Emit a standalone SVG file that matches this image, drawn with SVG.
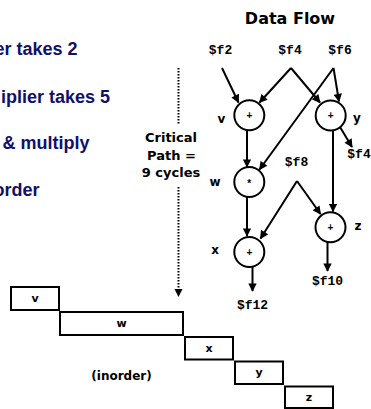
<svg xmlns="http://www.w3.org/2000/svg" width="371" height="409" viewBox="0 0 371 409">
  <style>
    .bullet { font-family: "Liberation Sans", Arial, sans-serif; font-weight: bold; font-size: 18px; fill: #10106b; text-anchor: end; }
    .hand { font-family: "DejaVu Sans", Verdana, sans-serif; font-weight: bold; fill: #000; text-anchor: middle; }
    .reg { font-family: "Liberation Mono", "Courier New", monospace; font-weight: bold; font-size: 13px; fill: #000; text-anchor: middle; }
    .op { fill: #fff; stroke: #000; stroke-width: 2; }
    .opsym { font-family: "Liberation Sans", Arial, sans-serif; font-weight: bold; font-size: 10px; fill: #000; text-anchor: middle; }
    .edge { stroke: #000; stroke-width: 2; fill: none; marker-end: url(#arrow); }
    .crit { stroke: #000; stroke-width: 2; fill: none; stroke-dasharray: 1.5 1.5; }
    .slot { fill: #fff; stroke: #000; stroke-width: 2; }
  </style>
  <defs>
    <marker id="arrow" viewBox="0 0 10 10" refX="9" refY="5" markerWidth="4.8" markerHeight="4.2" orient="auto" markerUnits="strokeWidth">
      <path d="M0,0 L10,5 L0,10 z" fill="#000"/>
    </marker>
  </defs>

  <!-- bullet text, clipped at the left edge -->
  <g id="bullets">
    <text class="bullet" x="77.5" y="55">er takes 2</text>
    <text class="bullet" x="110" y="102.5">iplier takes 5</text>
    <text class="bullet" x="89.5" y="149">&amp; multiply</text>
    <text class="bullet" x="39.5" y="196">order</text>
  </g>

  <!-- critical path indicator -->
  <g id="critical-path">
    <line class="crit" x1="178.5" y1="68" x2="178.5" y2="124"/>
    <line class="crit" x1="178.5" y1="187" x2="178.5" y2="290"/>
    <path d="M174.5,289 L182.5,289 L178.5,297 z" fill="#000"/>
    <text class="hand" font-size="13" x="171" y="142">Critical</text>
    <text class="hand" font-size="13" x="171.5" y="159.5">Path =</text>
    <text class="hand" font-size="13" x="171" y="177">9 cycles</text>
  </g>

  <text class="hand" font-size="16" x="290" y="24">Data Flow</text>

  <!-- register labels -->
  <g id="registers">
    <text class="reg" x="220.5" y="54">$f2</text>
    <text class="reg" x="290" y="54">$f4</text>
    <text class="reg" x="340" y="54">$f6</text>
    <text class="reg" x="359" y="158">$f4</text>
    <text class="reg" x="296.5" y="166">$f8</text>
    <text class="reg" x="327.5" y="285">$f10</text>
    <text class="reg" x="252.5" y="309">$f12</text>
  </g>

  <!-- connectors -->
  <g id="connectors">
    <line class="edge" x1="222" y1="68" x2="238.5" y2="102.5"/>
    <line class="edge" x1="291" y1="68" x2="259.5" y2="102.5"/>
    <line class="edge" x1="291" y1="68" x2="320" y2="102.5"/>
    <line class="edge" x1="333.5" y1="68" x2="339" y2="101.5"/>
    <line class="edge" x1="333.5" y1="68" x2="259.5" y2="169.5"/>
    <line class="edge" x1="247" y1="130" x2="247" y2="167"/>
    <line class="edge" x1="333" y1="130.5" x2="333" y2="211.5"/>
    <line class="edge" x1="340" y1="127" x2="352" y2="147"/>
    <line class="edge" x1="247" y1="197" x2="247" y2="236"/>
    <line class="edge" x1="297" y1="181" x2="260.5" y2="238.5"/>
    <line class="edge" x1="297" y1="181" x2="320.5" y2="214"/>
    <line class="edge" x1="252.5" y1="267" x2="252.5" y2="291"/>
    <line class="edge" x1="327.5" y1="242" x2="327.5" y2="271"/>
  </g>

  <!-- operation nodes -->
  <g id="node-v">
    <circle class="op" cx="249.3" cy="115.3" r="15"/>
    <text class="opsym" x="249.3" y="119">+</text>
    <text class="hand" font-size="12" x="221.5" y="123">v</text>
  </g>
  <g id="node-y">
    <circle class="op" cx="330.7" cy="115.5" r="15"/>
    <text class="opsym" x="330.7" y="119">+</text>
    <text class="hand" font-size="12" x="357" y="122">y</text>
  </g>
  <g id="node-w">
    <circle class="op" cx="249.3" cy="182" r="15"/>
    <text class="opsym" x="249.3" y="187">*</text>
    <text class="hand" font-size="12" x="215" y="186">w</text>
  </g>
  <g id="node-x">
    <circle class="op" cx="249.3" cy="252" r="15"/>
    <text class="opsym" x="249.3" y="256">+</text>
    <text class="hand" font-size="12" x="215" y="254">x</text>
  </g>
  <g id="node-z">
    <circle class="op" cx="330.5" cy="227.3" r="15"/>
    <text class="opsym" x="330.5" y="231">+</text>
    <text class="hand" font-size="12" x="358" y="230">z</text>
  </g>

  <!-- in-order schedule -->
  <g id="slot-v">
    <rect class="slot" x="11" y="287" width="48" height="23"/>
    <text class="hand" font-size="11" x="35" y="302">v</text>
  </g>
  <g id="slot-w">
    <rect class="slot" x="60" y="312" width="123" height="23"/>
    <text class="hand" font-size="11" x="121.5" y="327">w</text>
  </g>
  <g id="slot-x">
    <rect class="slot" x="185" y="337" width="48" height="22.5"/>
    <text class="hand" font-size="11" x="209" y="352">x</text>
  </g>
  <g id="slot-y">
    <rect class="slot" x="235" y="361.5" width="48" height="22.5"/>
    <text class="hand" font-size="11" x="259" y="376">y</text>
  </g>
  <g id="slot-z">
    <rect class="slot" x="285" y="386.5" width="48" height="21.5"/>
    <text class="hand" font-size="11" x="309" y="401">z</text>
  </g>
  <text class="hand" font-size="12" x="121.5" y="380">(inorder)</text>
</svg>
